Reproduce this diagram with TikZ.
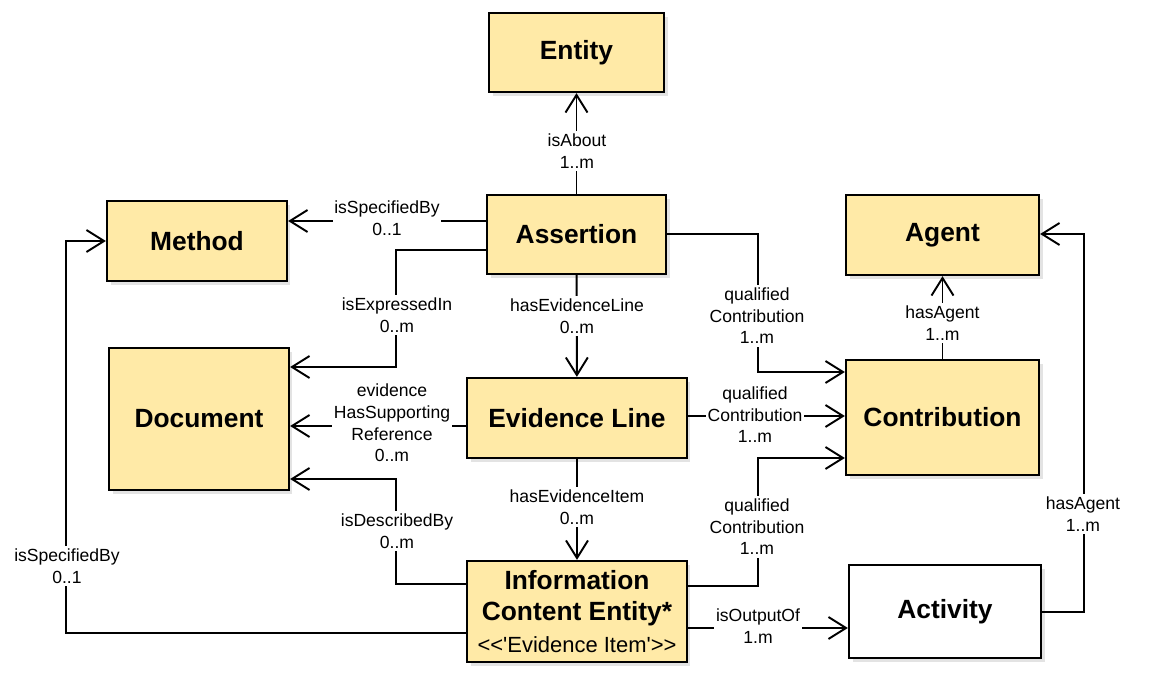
\documentclass[tikz,border=0pt]{standalone}
\usepackage{fontspec}
\setmainfont{Liberation Sans}
\usepackage{tikz}
\usetikzlibrary{arrows.meta, shadows}
\definecolor{boxyellow}{HTML}{FFEAA7}

\begin{document}
\begin{tikzpicture}[x=0.02cm, y=-0.02cm,
    cls/.style={draw, line width=1.3pt, fill=boxyellow, inner sep=0pt, align=center,
      drop shadow={opacity=0.22, shadow xshift=2pt, shadow yshift=-2.5pt},
      font=\fontsize{15}{18}\selectfont\bfseries},
    actbox/.style={cls, fill=white},
    rel/.style={line width=1.1pt, -{Straight Barb[length=10pt, width=12.5pt]}},
    lbl/.style={fill=white, align=center, inner xsep=1pt, inner ysep=1.5pt,
      font=\fontsize{10}{12.3}\selectfont}]
    \useasboundingbox (0,0) rectangle (1153,696);
    % classes
    \node[cls, minimum width=3.5cm, minimum height=1.58cm] (entity) at (576.5,52.5) {Entity};
    \node[cls, minimum width=3.58cm, minimum height=1.58cm] (assertion) at (576.5,234.5) {Assertion};
    \node[cls, minimum width=3.6cm, minimum height=1.6cm] (method) at (197,241) {Method};
    \node[cls, minimum width=3.6cm, minimum height=2.84cm] (document) at (199,419) {Document};
    \node[cls, minimum width=4.4cm, minimum height=1.6cm] (evline) at (577,418) {Evidence Line};
    \node[cls, minimum width=3.86cm, minimum height=2.3cm] (contrib) at (942.5,417.5) {Contribution};
    \node[cls, minimum width=3.86cm, minimum height=1.6cm] (agent) at (942.5,235) {Agent};
    \node[cls, minimum width=4.4cm, minimum height=2.02cm] (ice) at (577,611.5)
      {Information\\Content Entity*\\{\fontsize{12.5}{15}\selectfont\mdseries
       \textless\kern0pt\textless\kern0pt\textquotesingle Evidence Item\textquotesingle\kern0pt\textgreater\kern0pt\textgreater}};
    \node[actbox, minimum width=3.84cm, minimum height=1.86cm] (activity) at (945,611.5) {Activity};
    % relations
    \draw[rel] (assertion) -- (entity);
    \draw[rel] (assertion.west |- 0,221) -- (method.east |- 0,221);
    \draw[rel] (assertion.west |- 0,250) -- ++(-90,0) |- (document.east |- 0,367);
    \draw[rel] (evline.west |- 0,426) -- (document.east |- 0,426);
    \draw[rel] (ice.west |- 0,584) -- ++(-70,0) |- (document.east |- 0,479);
    \draw[rel] (ice.west |- 0,633) -- ++(-400,0) |- (method.west |- 0,241);
    \draw[rel] (assertion) -- (evline);
    \draw[rel] (evline) -- (ice);
    \draw[rel] (assertion.east |- 0,234) -- ++(91,0) |- (contrib.west |- 0,372);
    \draw[rel] (evline.east |- 0,416) -- (contrib.west |- 0,416);
    \draw[rel] (ice.east |- 0,586) -- ++(70,0) |- (contrib.west |- 0,458);
    \draw[rel] (ice.east |- 0,628) -- (activity.west |- 0,628);
    \draw[rel] (contrib) -- (agent);
    \draw[rel] (activity.east |- 0,612) -- ++(42,0) |- (agent.east |- 0,234);
    % labels
    \node[lbl] (about) at (577,151) {isAbout\\1..m};
    \node[lbl] (specM) at (387,218) {isSpecifiedBy\\0..1};
    \node[lbl] (expr) at (397,315) {isExpressedIn\\0..m};
    \node[lbl] (suppRef) at (392,423) {evidence\\HasSupporting\\Reference\\0..m};
    \node[lbl] (descr) at (397,531) {isDescribedBy\\0..m};
    \node[lbl] (specI) at (67,566) {isSpecifiedBy\\0..1};
    \node[lbl] (hasLine) at (577,316) {hasEvidenceLine\\0..m};
    \node[lbl] (hasItem) at (577,507) {hasEvidenceItem\\0..m};
    \node[lbl] (qcA) at (757,316) {qualified\\Contribution\\1..m};
    \node[lbl] (qcE) at (755,415) {qualified\\Contribution\\1..m};
    \node[lbl] (qcI) at (757,527) {qualified\\Contribution\\1..m};
    \node[lbl] (output) at (758,626) {isOutputOf\\1.m};
    \node[lbl] (agC) at (942.5,323) {hasAgent\\1..m};
    \node[lbl] (agA) at (1083,514) {hasAgent\\1..m};
\end{tikzpicture}
\end{document}
